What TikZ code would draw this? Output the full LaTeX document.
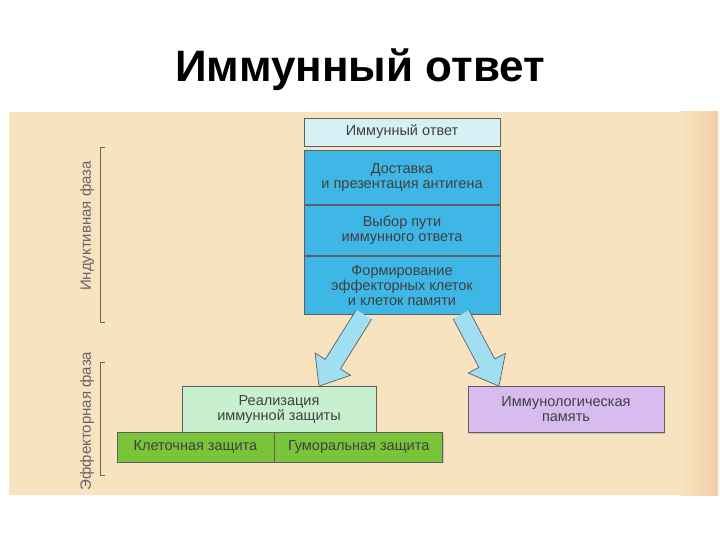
\documentclass[tikz,border=0pt]{standalone}
\usepackage{fontspec}
\setmainfont{Liberation Sans}
\usepackage{tikz}
\usetikzlibrary{calc,shadows,arrows.meta,positioning}

\definecolor{paper}{RGB}{248,227,192}
\definecolor{paperedge}{RGB}{244,206,168}
\definecolor{headcyan}{RGB}{214,240,246}
\definecolor{stepblue}{RGB}{62,182,230}
\definecolor{arrowblue}{RGB}{160,222,242}
\definecolor{mintgreen}{RGB}{200,240,206}
\definecolor{leafgreen}{RGB}{122,196,58}
\definecolor{lilac}{RGB}{216,188,240}
\definecolor{rim}{RGB}{95,95,95}
\definecolor{brack}{RGB}{110,100,90}

\tikzset{
    box/.style={draw=rim, line width=0.7pt, align=center, inner sep=1pt,
        font=\fontsize{14.5}{15}\selectfont, text=black!75,
        drop shadow={shadow xshift=1.2pt, shadow yshift=-1.2pt, fill=black!35}},
    phase/.style={rotate=90, font=\fontsize{15}{16}\selectfont, text=black!60},
    fatarrow/.style={draw=rim, line width=0.7pt, fill=arrowblue, line join=miter}
}

\begin{document}
\begin{tikzpicture}[x=1pt, y=-1pt]
            \useasboundingbox (0,0) rectangle (720,540);
            \fill[white] (0,0) rectangle (720,540);
            \fill[paper] (9,112) rectangle (718,495);
            \shade[left color=paper, right color=paperedge] (680,112) rectangle (718,495);

            \node[anchor=base] (title) at (360,82) {\fontsize{44}{48}\selectfont\bfseries Иммунный ответ};

            % induction phase
            \node[box, fill=headcyan, minimum width=196pt, minimum height=28pt] (resp) at (402,132) {Иммунный ответ};
            \node[box, fill=stepblue, minimum width=196pt, minimum height=54pt, below=4pt of resp] (deliv)
                {Доставка\\и презентация антигена};
            \node[box, fill=stepblue, minimum width=196pt, minimum height=50pt, below=0pt of deliv] (choice)
                {Выбор пути\\иммунного ответа};
            \node[box, fill=stepblue, minimum width=196pt, minimum height=58pt, below=0pt of choice] (form)
                {Формирование\\эффекторных клеток\\и клеток памяти};

            % effector phase
            \node[box, fill=mintgreen, minimum width=194pt, minimum height=46pt] (real) at (279,409.5)
                {Реализация\\иммунной защиты};
            \node[box, fill=leafgreen, minimum width=157pt, minimum height=30pt] (cell) at (195.5,447) {Клеточная защита};
            \node[box, fill=leafgreen, minimum width=168pt, minimum height=30pt, right=0pt of cell] (humor) {Гуморальная защита};
            \node[box, fill=lilac, minimum width=196pt, minimum height=46pt] (memo) at (566,409.5)
                {Иммунологическая\\память};

            \coordinate (outL) at ([xshift=-38pt]form.south);
            \coordinate (inL) at ([xshift=40pt]real.north);
            \coordinate (outR) at ([xshift=59pt]form.south);
            \coordinate (inR) at ([xshift=-67pt]memo.north);
            \foreach \s/\t in {outL/inL, outR/inR}{
                    \draw[fatarrow] ($(\s)!9pt!90:(\t)$) -- ($($(\t)!26pt!(\s)$)!9pt!90:(\t)$)
                        -- ($($(\t)!26pt!(\s)$)!21pt!90:(\t)$) -- (\t)
                        -- ($($(\t)!26pt!(\s)$)!21pt!-90:(\t)$) -- ($($(\t)!26pt!(\s)$)!9pt!-90:(\t)$)
                        -- ($(\s)!9pt!-90:(\t)$);
                }

            % phase brackets
            \draw[brack, line width=1pt] (105,148) -- (100,148) -- (100,322) -- (105,322);
            \draw[brack, line width=1pt] (105,362) -- (100,362) -- (100,475) -- (105,475);
            \node[phase] (induct) at (87,226) {Индуктивная фаза};
            \node[phase] (effect) at (87,421) {Эффекторная фаза};
        \end{tikzpicture}
\end{document}
